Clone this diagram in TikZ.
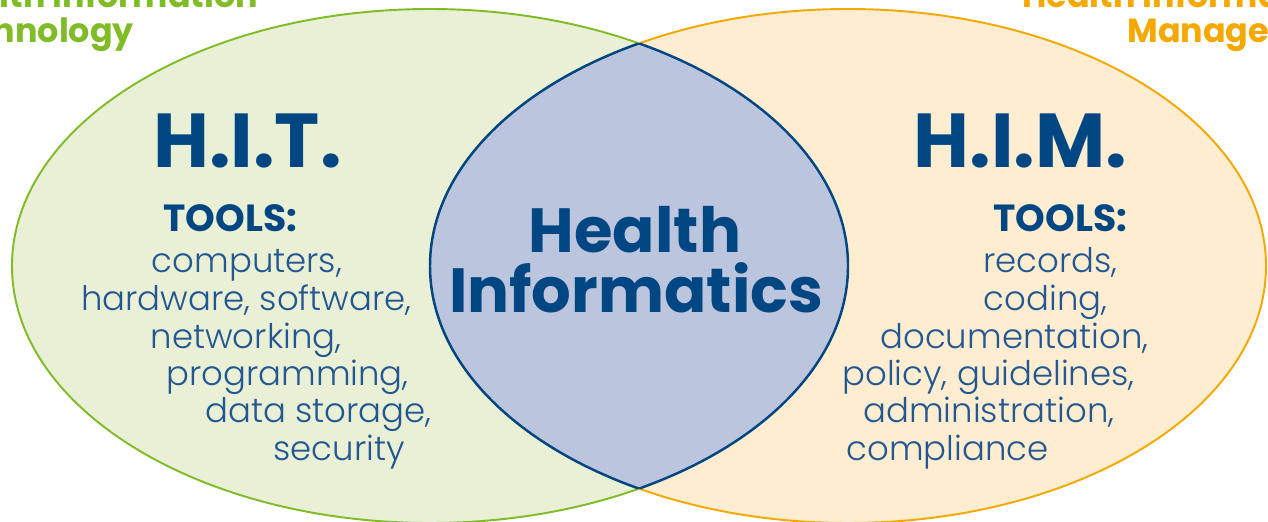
\documentclass[tikz,border=0pt]{standalone}
\usepackage{fontspec}
\setmainfont{Poppins}
\newfontfamily\lightfont{Poppins Light}
\definecolor{hitgreen}{RGB}{128,188,40}
\definecolor{hitfill}{RGB}{233,240,213}
\definecolor{himorange}{RGB}{244,168,0}
\definecolor{himfill}{RGB}{254,237,209}
\definecolor{hifill}{RGB}{188,197,222}
\definecolor{hiblue}{RGB}{0,70,130}
\definecolor{itemblue}{RGB}{35,87,145}

\begin{document}
\begin{tikzpicture}[x=0.02cm,y=0.02cm,
	head/.style={font=\bfseries\fontsize{43.5}{43.5}\selectfont,text=hiblue,anchor=base,inner sep=0pt},
	tools/.style={font=\bfseries\fontsize{21.5}{21.5}\selectfont,text=hiblue,anchor=base,inner sep=0pt},
	item/.style={font=\lightfont\fontsize{19.3}{19.3}\selectfont,text=itemblue,anchor=base,inner sep=0pt},
	title/.style={font=\bfseries\fontsize{19}{19}\selectfont,anchor=base west,inner sep=0pt},
	center/.style={font=\bfseries\fontsize{35.5}{35.5}\selectfont,text=hiblue,anchor=base,inner sep=0pt}]
	\useasboundingbox (0,0) rectangle (1268,521);
	\clip (0,0) rectangle (1268,521);

	% the two sets
	\filldraw[fill=hitfill,draw=hitgreen,line width=1.1pt] (430,255) ellipse [x radius=418,y radius=257];
	\filldraw[fill=himfill,draw=himorange,line width=1.1pt] (848,255) ellipse [x radius=418,y radius=257];
	% overlap
	\begin{scope}
		\clip (430,255) ellipse [x radius=418,y radius=257];
		\fill[hifill] (848,255) ellipse [x radius=418,y radius=257];
		\draw[hiblue,line width=1.4pt] (848,255) ellipse [x radius=418,y radius=257];
	\end{scope}
	\begin{scope}
		\clip (848,255) ellipse [x radius=418,y radius=257];
		\draw[hiblue,line width=1.4pt] (430,255) ellipse [x radius=418,y radius=257];
	\end{scope}

	\node[title,text=hitgreen] (hittitle1) at (-68,513) {Health Information};
	\node[title,text=hitgreen] (hittitle2) at (-68,478) {Technology};
	\node[title,text=himorange] (himtitle1) at (1022,513) {Health Information};
	\node[title,text=himorange] (himtitle2) at (1127,478) {Management};

	\node[head] (hit) at (247.5,353) {H.I.T.};
	\node[tools] (hittools) at (230.5,289) {TOOLS:};
	\foreach \x/\y/\t [count=\i] in {247/248/{computers,},246.5/210/{hardware, software,},
		246/173/{networking,},287.5/135/{programming,},318.5/98/{data storage,},339/61/{security}}
		\node[item] (hititem\i) at (\x,\y) {\t};

	\node[head] (him) at (1020.5,353) {H.I.M.};
	\node[tools] (himtools) at (1060.5,289) {TOOLS:};
	\foreach \x/\y/\t [count=\i] in {1050.5/248/{records,},1045.5/210/{coding,},
		1014.5/173/{documentation,},988.5/135/{policy, guidelines,},989/98/{administration,},947.5/61/{compliance}}
		\node[item] (himitem\i) at (\x,\y) {\t};

	\node[center] (health) at (635,268) {Health};
	\node[center] (informatics) at (636,208) {Informatics};
\end{tikzpicture}
\end{document}
